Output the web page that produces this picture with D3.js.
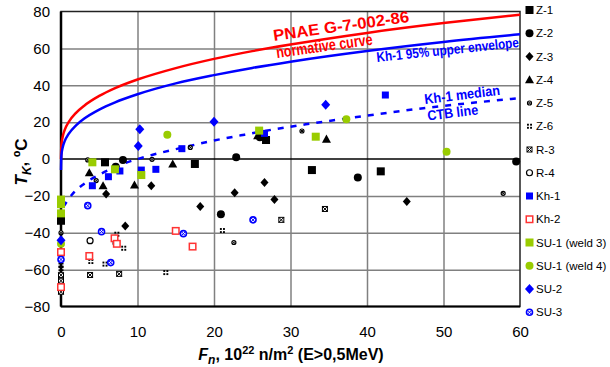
<!DOCTYPE html>
<html>
<head>
<meta charset="utf-8">
<script src="https://cdn.jsdelivr.net/npm/d3@7"></script>
<style>
  body { margin: 0; background: #fff; }
  text { font-family: Arial, "Liberation Sans", sans-serif; }
</style>
</head>
<body>
<svg id="chart" width="610" height="367"></svg>
<script>
// ticks
const xTicks = [0, 10, 20, 30, 40, 50, 60];
const yTicks = [-80, -60, -40, -20, 0, 20, 40, 60, 80];

// curves as [F, T]
const pnaeCurve = [[0,0],[0.05,7.4],[0.2,11.7],[0.5,15.9],[1,20],[2,25.2],[3,28.8],[5,34.2],[7,38.3],[10,43.1],[15,49.3],[20,54.3],[25,58.5],[30,62.1],[40,68.4],[50,73.7],[60,78.3]];
const upperEnvelope = [[0,-6],[0.05,1.9],[0.2,5.9],[0.5,9.8],[1,13.6],[2,18.4],[3,21.8],[5,26.8],[7,30.6],[10,35.1],[15,41],[20,45.5],[25,49.4],[30,52.8],[40,58.6],[50,63.5],[60,67.6]];
const medianLine = [[0.3,-26],[0.7,-23.5],[1.6,-18.5],[3,-13.5],[5,-8.5],[8,-2.8],[12,2.3],[16,6.3],[20,10],[24,13.2],[28,16.2],[32,18.8],[36,21.2],[40,23.5],[45,26.3],[50,28.8],[55,31],[60,33]];

// measured points [F, T]
const z1 = [[0,-33.5],[5.75,-1.8],[17.5,-2.7],[26.8,10.3],[32.8,-6],[41.8,-6.7]];
const z2 = [[8.1,-0.5],[7.15,-4.2],[22.9,0.9],[38.8,-10.1],[59.5,-1.4],[20.9,-30],[26.0,11.8]];
const z3 = [[5.9,-19],[11.8,-14.5],[8.4,-36.3],[22.7,-18.3],[26.6,-12.8],[18.2,-25.8],[27.9,-22],[45.2,-23.1]];
const z4 = [[3.7,-7.4],[5.5,-14.5],[9.6,-14.1],[14.6,-2.7],[25.7,12.6],[34.7,10.8]];
const z5 = [[3.5,-0.5],[11.9,-0.2],[4.6,-11.7],[16.9,6.3],[31.5,15.2],[0,-40],[22.6,-45.3],[57.8,-18.6]];
const z6 = [[7.3,-40.8],[8.2,-48.4],[3.9,-55.6],[5.75,-57],[13.7,-61.6],[21.1,-38.8],[0,-57.5],[0,-59.5]];
const r3 = [[3.8,-62.9],[7.6,-62.3],[28.8,-33],[34.5,-27.1],[0,-63],[0,-66],[0,-72]];
const r4 = [[3.8,-44.3],[7.2,-45.7]];
const kh1 = [[15.8,5.6],[7.7,-6.5],[10.5,-6],[12.4,-5.6],[6.2,-9.6],[4.1,-14.5],[26.6,13.9],[42.4,34.7],[0,-51]];
const kh2 = [[7.0,-43],[7.3,-46],[15.0,-39],[3.7,-52.6],[17.2,-47.5],[0,-50.5],[0,-69.5]];
const su1w3 = [[4.1,-1.8],[7.05,-5.6],[10.5,-8.7],[25.9,15.4],[33.3,12.1],[0,-22],[0,-24.5],[0,-29.5]];
const su1w4 = [[13.9,13.2],[37.3,21.5],[50.4,4.0],[0,-46]];
const su2 = [[10.3,16.1],[10.1,7.0],[20,20.2],[34.6,29.4],[0,-44]];
const su3 = [[3.5,-25.3],[5.3,-39.4],[16,-40.5],[6.5,-56.2],[25.1,-33],[0,-54.5]];

const seriesNames = ['Z-1','Z-2','Z-3','Z-4','Z-5','Z-6','R-3','R-4','Kh-1','Kh-2','SU-1 (weld 3)','SU-1 (weld 4)','SU-2','SU-3'];
const seriesData = [z1, z2, z3, z4, z5, z6, r3, r4, kh1, kh2, su1w3, su1w4, su2, su3];

const green = '#99cc00';
const styles = {
  'Z-1': { shape: 'square', color: '#000', s: 8 },
  'Z-2': { shape: 'circle', color: '#000', s: 8 },
  'Z-3': { shape: 'diamond', color: '#000', s: 8 },
  'Z-4': { shape: 'triangle', color: '#000', s: 9 },
  'Z-5': { shape: 'circleX', color: '#000', s: 5 },
  'Z-6': { shape: 'dotSquare', color: '#000', s: 5 },
  'R-3': { shape: 'squareX', color: '#000', s: 5 },
  'R-4': { shape: 'openCircle', color: '#000', s: 7 },
  'Kh-1': { shape: 'square', color: '#0000ff', s: 7 },
  'Kh-2': { shape: 'openSquare', color: '#ff3333', s: 8 },
  'SU-1 (weld 3)': { shape: 'square', color: green, s: 8 },
  'SU-1 (weld 4)': { shape: 'circle', color: green, s: 8 },
  'SU-2': { shape: 'diamond', color: '#0000ff', s: 9 },
  'SU-3': { shape: 'circleX', color: '#0000ff', s: 7 }
};

const svg = d3.select('#chart');
const x = d3.scaleLinear().domain([0, 60]).range([61, 520]);
const y = d3.scaleLinear().domain([-80, 80]).range([306.5, 11.5]);

// grid
svg.append('g')
  .attr('transform', 'translate(0,306.5)')
  .call(d3.axisBottom(x).tickValues(xTicks.slice(1, -1)).tickSize(-295).tickFormat(''))
  .call(g => g.select('.domain').remove())
  .selectAll('line').attr('stroke', '#808080').attr('stroke-width', 1.5);
svg.append('g')
  .attr('transform', 'translate(61,0)')
  .call(d3.axisLeft(y).tickValues(yTicks.filter(v => v !== 0 && Math.abs(v) !== 80)).tickSize(-459).tickFormat(''))
  .call(g => g.select('.domain').remove())
  .selectAll('line').attr('stroke', '#808080').attr('stroke-width', 1.5);

// frame and zero line
svg.append('rect').attr('x', x(0)).attr('y', y(80)).attr('width', x(60) - x(0)).attr('height', y(-80) - y(80))
  .attr('fill', 'none').attr('stroke', '#222').attr('stroke-width', 1.5);
svg.append('line').attr('x1', x(0)).attr('x2', x(60)).attr('y1', y(0)).attr('y2', y(0))
  .attr('stroke', '#000').attr('stroke-width', 1.5);
svg.append('line').attr('x1', x(0)).attr('x2', x(0)).attr('y1', y(80)).attr('y2', y(-80))
  .attr('stroke', '#000').attr('stroke-width', 2.5);
svg.append('line').attr('x1', x(0)).attr('x2', x(60)).attr('y1', y(-80)).attr('y2', y(-80))
  .attr('stroke', '#000').attr('stroke-width', 2);

// tick labels
svg.append('g')
  .attr('transform', 'translate(61,0)')
  .call(d3.axisLeft(y).tickValues(yTicks).tickSize(0).tickPadding(11))
  .call(g => g.select('.domain').remove())
  .selectAll('text').attr('font-size', 15).attr('fill', '#000').style('font-family', 'Arial, "Liberation Sans", sans-serif');
svg.append('g')
  .attr('transform', 'translate(0,306.5)')
  .call(d3.axisBottom(x).tickValues(xTicks).tickSize(0).tickPadding(20))
  .call(g => g.select('.domain').remove())
  .selectAll('text').attr('font-size', 15).attr('fill', '#000').style('font-family', 'Arial, "Liberation Sans", sans-serif');

// curves
const line = d3.line().x(d => x(d[0])).y(d => y(d[1])).curve(d3.curveMonotoneX);
svg.append('path').datum(pnaeCurve).attr('d', line).attr('fill', 'none').attr('stroke', '#ff0000').attr('stroke-width', 2.5);
svg.append('path').datum(upperEnvelope).attr('d', line).attr('fill', 'none').attr('stroke', '#0000ff').attr('stroke-width', 2.5);
svg.append('path').datum(medianLine).attr('d', line).attr('fill', 'none').attr('stroke', '#0000ff').attr('stroke-width', 2.5)
  .attr('stroke-dasharray', '6,7');

// markers
function drawMarker(g, st, cx, cy) {
  const h = st.s / 2;
  const c = st.color;
  switch (st.shape) {
    case 'square':
      g.append('rect').attr('x', cx - h).attr('y', cy - h).attr('width', st.s).attr('height', st.s).attr('fill', c);
      break;
    case 'circle':
      g.append('circle').attr('cx', cx).attr('cy', cy).attr('r', h).attr('fill', c);
      break;
    case 'diamond':
      g.append('path').attr('d', `M${cx},${cy - h - 0.5}L${cx + h},${cy}L${cx},${cy + h + 0.5}L${cx - h},${cy}Z`).attr('fill', c);
      break;
    case 'triangle':
      g.append('path').attr('d', `M${cx},${cy - h}L${cx + h},${cy + h * 0.8}L${cx - h},${cy + h * 0.8}Z`).attr('fill', c);
      break;
    case 'circleX': {
      g.append('circle').attr('cx', cx).attr('cy', cy).attr('r', h - 0.5).attr('fill', '#fff').attr('stroke', c).attr('stroke-width', st.s > 5 ? 1.6 : 1.2);
      const k = (h - 0.5) * 0.7;
      g.append('path').attr('d', `M${cx - k},${cy - k}L${cx + k},${cy + k}M${cx - k},${cy + k}L${cx + k},${cy - k}`)
        .attr('stroke', c).attr('stroke-width', 1);
      break;
    }
    case 'squareX':
      g.append('rect').attr('x', cx - h).attr('y', cy - h).attr('width', st.s).attr('height', st.s)
        .attr('fill', '#fff').attr('stroke', c).attr('stroke-width', 1);
      g.append('path').attr('d', `M${cx - h},${cy - h}L${cx + h},${cy + h}M${cx - h},${cy + h}L${cx + h},${cy - h}`)
        .attr('stroke', c).attr('stroke-width', 1);
      break;
    case 'dotSquare':
      [[-1, -1], [1, -1], [-1, 1], [1, 1]].forEach(([dx, dy]) => {
        g.append('rect').attr('x', cx + (dx < 0 ? -h : 0.6)).attr('y', cy + (dy < 0 ? -h : 0.6))
          .attr('width', h - 0.6).attr('height', h - 0.6).attr('fill', c);
      });
      break;
    case 'openCircle':
      g.append('circle').attr('cx', cx).attr('cy', cy).attr('r', h - 0.5).attr('fill', '#fff').attr('stroke', c).attr('stroke-width', 1.2);
      break;
    case 'openSquare':
      g.append('rect').attr('x', cx - h + 0.75).attr('y', cy - h + 0.75).attr('width', st.s - 1.5).attr('height', st.s - 1.5)
        .attr('fill', '#fff').attr('stroke', c).attr('stroke-width', 1.5);
      break;
  }
}

const markers = svg.append('g');
seriesNames.forEach((name, i) => {
  const g = markers.append('g');
  seriesData[i].forEach(d => drawMarker(g, styles[name], x(d[0]), y(d[1])));
});

// annotations
function note(txt, px, py, rot, size, color, len) {
  svg.append('text')
    .attr('transform', `translate(${px},${py}) rotate(${rot})`)
    .attr('font-size', size).attr('font-weight', 'bold').attr('fill', color)
    .attr('textLength', len).attr('lengthAdjust', 'spacingAndGlyphs')
    .text(txt);
}
note('PNAE G-7-002-86', 274, 41, -8, 16, '#ff0000', 137);
note('normative curve', 277, 58, -8, 16, '#ff0000', 97);
note('Kh-1 95% upper envelope', 377, 62, -6, 14, '#0000ff', 143);
note('Kh-1 median', 425, 104, -7, 14, '#0000ff', 76);
note('CTB line', 428, 120.5, -7, 14, '#0000ff', 51);

// legend
const legend = svg.append('g');
seriesNames.forEach((name, i) => {
  const ly = 10 + i * 23.25;
  drawMarker(legend, styles[name], 529.5, ly);
  legend.append('text').attr('x', 536).attr('y', ly).attr('dy', '0.36em')
    .attr('font-size', 11.5).attr('fill', '#000').text(name);
});

// axis titles
const yt = svg.append('text')
  .attr('transform', 'translate(27,162) rotate(-90)')
  .attr('text-anchor', 'middle').attr('font-size', 17).attr('font-weight', 'bold');
yt.append('tspan').attr('font-style', 'italic').text('T');
yt.append('tspan').attr('font-style', 'italic').attr('font-size', 12).attr('dy', 4).text('K');
yt.append('tspan').attr('dy', -4).text(', ºC');

const xt = svg.append('text')
  .attr('x', 291).attr('y', 360)
  .attr('text-anchor', 'middle').attr('font-size', 16).attr('font-weight', 'bold');
xt.append('tspan').attr('font-style', 'italic').text('F');
xt.append('tspan').attr('font-style', 'italic').attr('font-size', 12).attr('dy', 4).text('n');
xt.append('tspan').attr('dy', -4).text(', 10');
xt.append('tspan').attr('font-size', 11).attr('dy', -6).text('22');
xt.append('tspan').attr('dy', 6).text(' n/m');
xt.append('tspan').attr('font-size', 11).attr('dy', -6).text('2');
xt.append('tspan').attr('dy', 6).text(' (E>0,5MeV)');
</script>
</body>
</html>
